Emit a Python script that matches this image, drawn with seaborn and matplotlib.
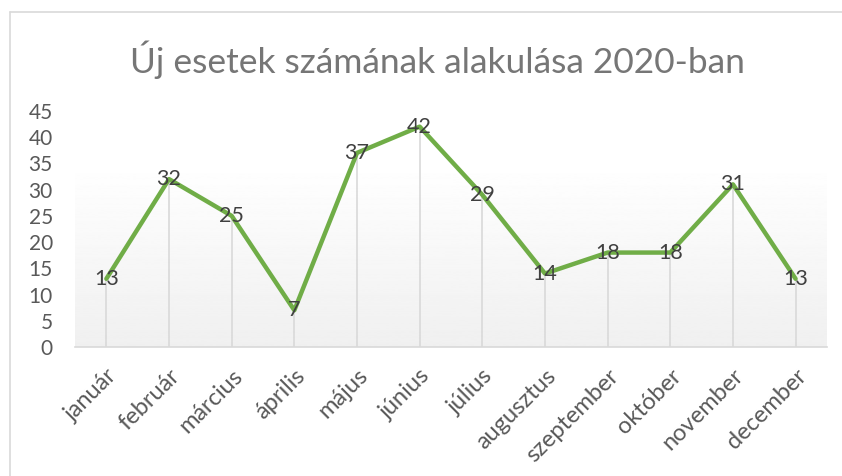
import numpy as np
import pandas as pd
import matplotlib
matplotlib.use('Agg')
import matplotlib.pyplot as plt
import seaborn as sns

# Données
honapok = ['január', 'február', 'március', 'április', 'május', 'június',
           'július', 'augusztus', 'szeptember', 'október', 'november', 'december']
esetek = [13, 32, 25, 7, 37, 42, 29, 14, 18, 18, 31, 13]
y_ticks = [0, 5, 10, 15, 20, 25, 30, 35, 40, 45]
cim = 'Új esetek számának alakulása 2020-ban'

df = pd.DataFrame({'honap': honapok, 'esetek': esetek})

sns.set_theme(style='white')
plt.rcParams['font.family'] = ['Lato', 'DejaVu Sans']

fig = plt.figure(figsize=(8.42, 4.76), dpi=100)
ax = fig.add_axes([0.0891, 0.271, 0.893, 0.496])

# fond en dégradé (comme Excel)
grad = np.linspace(0.94, 1.0, 256).reshape(-1, 1)
ax.imshow(grad, cmap='gray', vmin=0, vmax=1, aspect='auto', origin='lower',
          extent=[-0.5, len(honapok) - 0.5, 0, 35.3], zorder=0)

x = np.arange(len(honapok))
ax.vlines(x, 0, esetek, color='#d9d9d9', lw=1.2, zorder=1)

sns.lineplot(data=df, x='honap', y='esetek', sort=False, color='#70ad47',
             lw=3.2, ax=ax, zorder=3)

for xi, v in zip(x, esetek):
    ax.text(xi, v, str(v), ha='center', va='center', fontsize=15.5,
            color='#404040', zorder=4)

ax.set_xlim(-0.5, len(honapok) - 0.5)
ax.set_ylim(0, 45)
ax.set_yticks(y_ticks)
ax.set_xticks(x)
ax.set_xticklabels(honapok, rotation=45, ha='right', rotation_mode='anchor',
                   fontsize=17)
ax.tick_params(axis='both', length=0, labelcolor='#595959')
ax.tick_params(axis='y', pad=16, labelsize=15)
ax.tick_params(axis='x', pad=13)
ax.set_xlabel('')
ax.set_ylabel('')
ax.set_facecolor('none')
for s in ['top', 'right', 'left']:
    ax.spines[s].set_visible(False)
ax.spines['bottom'].set_color('#d9d9d9')
ax.spines['bottom'].set_linewidth(1.2)

fig.text(0.519, 0.874, cim, ha='center', va='center', fontsize=25.5,
         color='#767676')

# bordure du graphique
fig.add_artist(plt.Line2D([0.012, 0.012], [0, 0.975], color='#d9d9d9', lw=1.2,
                          transform=fig.transFigure))
fig.add_artist(plt.Line2D([0.012, 1], [0.975, 0.975], color='#d9d9d9', lw=1.2,
                          transform=fig.transFigure))

fig.savefig('out.png', dpi=100)
